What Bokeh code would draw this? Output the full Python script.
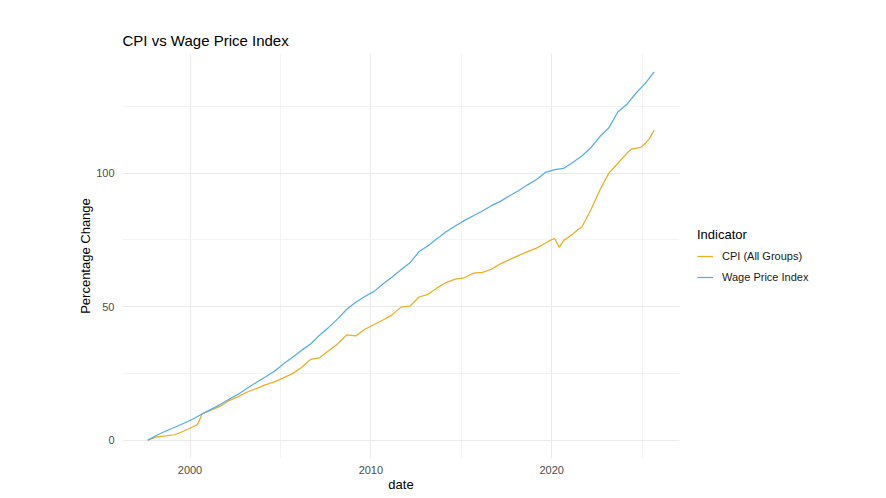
import pandas as pd
from bokeh.plotting import figure
from bokeh.models import (ColumnDataSource, Legend, LegendItem, FixedTicker,
                          DatetimeTickFormatter, Range1d)
from bokeh.embed import file_html
from bokeh.resources import INLINE

# ---- data ----
wpi_dates = ["1997-09-01", "1998-03-01", "1998-09-01", "1999-03-01", "1999-09-01",
             "2000-03-01", "2000-09-01", "2001-03-01", "2001-09-01", "2002-03-01",
             "2002-09-01", "2003-03-01", "2003-09-01", "2004-03-01", "2004-09-01",
             "2005-03-01", "2005-09-01", "2006-03-01", "2006-09-01", "2007-03-01",
             "2007-09-01", "2008-03-01", "2008-09-01", "2009-03-01", "2009-09-01",
             "2010-03-01", "2010-09-01", "2011-03-01", "2011-09-01", "2012-03-01",
             "2012-09-01", "2013-03-01", "2013-09-01", "2014-03-01", "2014-09-01",
             "2015-03-01", "2015-09-01", "2016-03-01", "2016-09-01", "2017-03-01",
             "2017-09-01", "2018-03-01", "2018-09-01", "2019-03-01", "2019-09-01",
             "2020-03-01", "2020-09-01", "2021-03-01", "2021-09-01", "2022-03-01",
             "2022-09-01", "2023-03-01", "2023-09-01", "2024-03-01", "2024-09-01",
             "2025-03-01", "2025-09-01"]
wpi_values = [0.0, 1.8, 3.4, 4.8, 6.3,
              7.9, 9.8, 11.5, 13.3, 15.3,
              17.2, 19.4, 21.6, 23.6, 25.8,
              28.5, 31.0, 33.6, 36.0, 39.3,
              42.2, 45.4, 49.0, 51.6, 53.8,
              55.6, 58.5, 61.0, 63.8, 66.4,
              70.6, 72.8, 75.5, 78.0, 80.2,
              82.2, 84.0, 85.8, 87.8, 89.4,
              91.5, 93.4, 95.6, 97.6, 100.3,
              101.3, 101.8, 104.0, 106.4, 109.5,
              113.7, 117.0, 123.0, 125.8, 130.0,
              133.5, 137.9]

cpi_dates = ["1997-09-01", "1998-03-01", "1998-09-01", "1999-03-01", "1999-09-01",
             "2000-03-01", "2000-06-01", "2000-09-01", "2001-03-01", "2001-09-01",
             "2002-03-01", "2002-09-01", "2003-03-01", "2003-09-01", "2004-03-01",
             "2004-09-01", "2005-03-01", "2005-09-01", "2006-03-01", "2006-09-01",
             "2007-03-01", "2007-09-01", "2008-03-01", "2008-09-01", "2009-03-01",
             "2009-09-01", "2010-03-01", "2010-09-01", "2011-03-01", "2011-09-01",
             "2012-03-01", "2012-09-01", "2013-03-01", "2013-09-01", "2014-03-01",
             "2014-09-01", "2015-03-01", "2015-09-01", "2016-03-01", "2016-09-01",
             "2017-03-01", "2017-09-01", "2018-03-01", "2018-09-01", "2019-03-01",
             "2019-09-01", "2019-12-01", "2020-03-01", "2020-06-01", "2020-09-01",
             "2020-12-01", "2021-03-01", "2021-06-01", "2021-09-01", "2021-12-01",
             "2022-03-01", "2022-09-01", "2023-03-01", "2023-09-01", "2024-03-01",
             "2024-06-01", "2024-12-01", "2025-03-01", "2025-06-01", "2025-09-01"]
cpi_values = [0.0, 1.2, 1.6, 2.0, 3.4,
              5.0, 5.8, 9.8, 11.2, 12.6,
              14.8, 16.3, 18.0, 19.3, 20.7,
              21.8, 23.3, 24.9, 27.2, 30.2,
              30.8, 33.5, 36.0, 39.4, 39.0,
              41.5, 43.2, 45.0, 46.8, 49.8,
              50.2, 53.6, 54.6, 57.0, 59.0,
              60.3, 60.8, 62.5, 62.8, 64.0,
              66.0, 67.6, 69.1, 70.6, 71.9,
              73.8, 74.8, 75.5, 72.2, 74.8,
              76.0, 77.2, 78.6, 79.8, 83.0,
              86.2, 93.7, 100.0, 103.7, 107.5,
              109.0, 109.6, 111.0, 113.0, 116.1]

series_labels = ["CPI (All Groups)", "Wage Price Index"]
x_tick_years = ["2000", "2010", "2020"]
x_minor_years = ["2005", "2015", "2025"]
y_ticks = [0, 50, 100]
y_minor = [25, 75, 125]

FONT = "Liberation Sans"
ORANGE = "#F0AD20"
BLUE = "#52AEF0"


def ms(s):
    return pd.Timestamp(s).value / 1e6


cpi_src = ColumnDataSource(dict(date=pd.to_datetime(cpi_dates), value=cpi_values))
wpi_src = ColumnDataSource(dict(date=pd.to_datetime(wpi_dates), value=wpi_values))

all_ms = [ms(d) for d in cpi_dates + wpi_dates]
xmin, xmax = min(all_ms), max(all_ms)
xspan = xmax - xmin
all_v = cpi_values + wpi_values
ymin, ymax = min(all_v), max(all_v)
yspan = ymax - ymin

p = figure(frame_width=557, frame_height=405, x_axis_type="datetime",
           output_backend="svg", toolbar_location=None,
           x_range=Range1d(xmin - 0.05 * xspan, xmax + 0.05 * xspan),
           y_range=Range1d(ymin - 0.05 * yspan, ymax + 0.05 * yspan),
           min_border_left=122, min_border_right=0,
           min_border_top=53, min_border_bottom=0)

p.outline_line_color = None
p.background_fill_color = "white"
p.border_fill_color = "white"

# title
p.title.text = "CPI vs Wage Price Index"
p.title.text_font = FONT
p.title.text_font_size = "15px"
p.title.text_font_style = "normal"
p.title.text_color = "black"
p.title.align = "left"
p.title.standoff = 10

r_cpi = p.line("date", "value", source=cpi_src, line_color=ORANGE, line_width=1.25)
r_wpi = p.line("date", "value", source=wpi_src, line_color=BLUE, line_width=1.25)

# axes
xa = p.xaxis[0]
xa.ticker = FixedTicker(ticks=[ms(y + "-01-01") for y in x_tick_years],
                        minor_ticks=[ms(y + "-01-01") for y in x_minor_years])
xa.formatter = DatetimeTickFormatter(years="%Y", months="%Y", days="%Y",
                                     hours="%Y", minutes="%Y", seconds="%Y",
                                     milliseconds="%Y", microseconds="%Y",
                                     hourmin="%Y", minsec="%Y")
ya = p.yaxis[0]
ya.ticker = FixedTicker(ticks=y_ticks, minor_ticks=y_minor)

xa.axis_label = "date"
ya.axis_label = "Percentage Change"
for ax in (xa, ya):
    ax.axis_line_color = None
    ax.major_tick_line_color = None
    ax.minor_tick_line_color = None
    ax.major_label_text_font = FONT
    ax.major_label_text_font_size = "11px"
    ax.major_label_text_color = "#4D4D4D"
    ax.axis_label_text_font = FONT
    ax.axis_label_text_font_size = "13px"
    ax.axis_label_text_font_style = "normal"
    ax.axis_label_text_color = "black"
xa.major_label_standoff = 1
xa.axis_label_standoff = 0
ya.major_label_standoff = 2
ya.axis_label_standoff = 0

# grid
for g in (p.xgrid[0], p.ygrid[0]):
    g.grid_line_color = "#EBEBEB"
    g.grid_line_width = 1.1
    g.minor_grid_line_color = "#F2F2F2"
    g.minor_grid_line_width = 0.9

legend = Legend(items=[LegendItem(label=series_labels[0], renderers=[r_cpi]),
                       LegendItem(label=series_labels[1], renderers=[r_wpi])],
                title="Indicator", location="center_left")
legend.title_text_font = FONT
legend.title_text_font_size = "13px"
legend.title_text_font_style = "normal"
legend.title_text_color = "black"
legend.title_standoff = 6
legend.label_text_font = FONT
legend.label_text_font_size = "11px"
legend.label_text_color = "#1A1A1A"
legend.glyph_width = 16
legend.glyph_height = 16
legend.label_height = 16
legend.label_standoff = 9
legend.spacing = 5
legend.padding = 0
legend.margin = 18
legend.border_line_color = None
legend.background_fill_alpha = 0
p.add_layout(legend, "right")

open("out.html", "w").write(file_html(p, INLINE))
